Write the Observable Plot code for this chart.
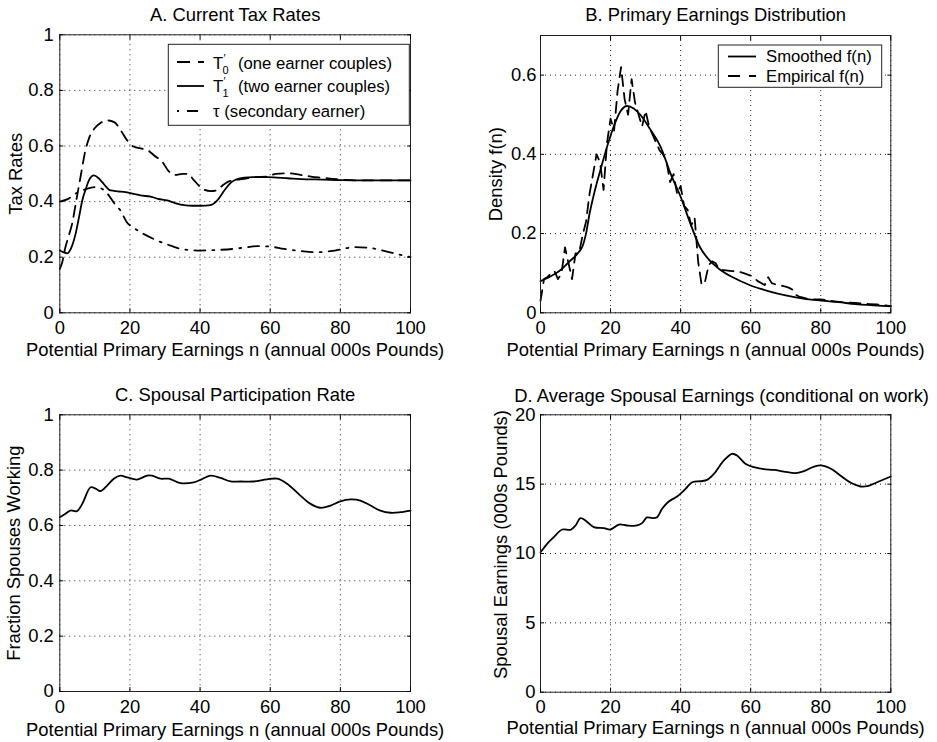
<!DOCTYPE html>
<html><head><meta charset="utf-8">
<script src="https://cdn.jsdelivr.net/npm/d3@7"></script>
<script src="https://cdn.jsdelivr.net/npm/@observablehq/plot@0.6"></script>
<style>
body{margin:0;background:#fff;}
#wrap{position:relative;width:937px;height:742px;background:#fff;}
#wrap svg{position:absolute;overflow:visible;}
</style></head><body><div id="wrap"></div>
<script>
// ---------- data ----------
const xTicks = [0, 20, 40, 60, 80, 100];
const xLabel = "Potential Primary Earnings n (annual 000s Pounds)";

// Panel A
const t0X = [0, 0.7, 1.6, 2.5, 3.5, 4.7, 5.9, 7.3, 8.4, 10, 11.5, 13.5, 15.5, 17.4, 19.1, 21, 23.5, 25, 26.9, 29.3, 31, 33, 35, 36.5, 38.3, 40.7, 43, 44.5, 46.4, 47.8, 49.3, 52.6, 55.4, 59.3, 61.6, 65.4, 68.3, 71.6, 74.5, 77.8, 81.1, 85, 90, 95, 100];
const t0Y = [0.158, 0.182, 0.236, 0.275, 0.32, 0.404, 0.488, 0.584, 0.63, 0.665, 0.682, 0.692, 0.686, 0.656, 0.622, 0.598, 0.59, 0.585, 0.566, 0.542, 0.51, 0.496, 0.5, 0.5, 0.476, 0.446, 0.438, 0.44, 0.458, 0.47, 0.476, 0.482, 0.488, 0.49, 0.5, 0.502, 0.497, 0.49, 0.486, 0.482, 0.478, 0.476, 0.476, 0.476, 0.476];
const t1X = [0, 1, 2.1, 3.2, 4.5, 5.5, 6.4, 7.4, 8.3, 9.7, 11, 12.1, 13.3, 14.5, 16.5, 18.8, 21, 23, 25.9, 28, 30.6, 33, 35.4, 38, 40.2, 43, 44.9, 46.9, 48.5, 49.7, 52.6, 55, 59.3, 65, 68.8, 75, 80.2, 87.9, 95, 100];
const t1Y = [0.224, 0.218, 0.214, 0.232, 0.284, 0.345, 0.404, 0.445, 0.476, 0.494, 0.485, 0.47, 0.452, 0.44, 0.437, 0.434, 0.428, 0.422, 0.418, 0.41, 0.404, 0.394, 0.387, 0.385, 0.385, 0.387, 0.404, 0.44, 0.465, 0.476, 0.486, 0.488, 0.488, 0.484, 0.481, 0.479, 0.477, 0.476, 0.476, 0.476];
const tauX = [0, 2.4, 5.2, 7.5, 10.2, 12, 13.6, 16, 17.3, 19.1, 21, 23, 26.7, 30.6, 34.4, 37, 40.2, 44.9, 49.6, 53, 56.3, 59.3, 64, 69, 73.5, 78.4, 84, 87.9, 92.7, 96, 100];
const tauY = [0.400, 0.410, 0.434, 0.445, 0.452, 0.446, 0.428, 0.386, 0.368, 0.326, 0.306, 0.29, 0.266, 0.246, 0.23, 0.226, 0.224, 0.226, 0.23, 0.235, 0.24, 0.239, 0.23, 0.222, 0.218, 0.224, 0.236, 0.234, 0.222, 0.212, 0.2];
const aTicks = [0, 0.2, 0.4, 0.6, 0.8, 1];

// Panel B
const smX = [0, 2, 4.3, 6, 8.1, 10.9, 12, 13, 14, 15, 16, 17.1, 19, 20.9, 22.8, 24.7, 26.6, 28.5, 31.4, 34.3, 37.1, 40, 42.8, 45.5, 48, 50, 52, 55, 60, 65, 70, 75, 80, 85, 90, 95, 100];
const smY = [0.08, 0.088, 0.099, 0.11, 0.128, 0.153, 0.168, 0.2, 0.25, 0.29, 0.325, 0.36, 0.419, 0.47, 0.508, 0.522, 0.516, 0.5, 0.462, 0.419, 0.352, 0.293, 0.225, 0.166, 0.135, 0.118, 0.104, 0.089, 0.069, 0.055, 0.044, 0.036, 0.031, 0.027, 0.022, 0.019, 0.016];
const empX = [0,1,2,3,4,5,6,7,8,9,10,11,12,13,14,15,16,17,18,19,20,21,22,23,24,25,26,27,28,29,30,31,32,33,34,35,36,37,38,39,40,41,42,43,44,45,46,47,48,49,50,51,52,53,54,55,56,57,58,59,60,61,62,63,64,65,66,67,68,69,70,71,72,73,74,75,76,77,78,79,80,82,84,86,88,90,92,94,96,98,100];
const empY = [0.03,0.085,0.09,0.10,0.105,0.085,0.10,0.165,0.125,0.085,0.15,0.15,0.195,0.23,0.30,0.35,0.40,0.38,0.31,0.43,0.49,0.46,0.56,0.62,0.54,0.50,0.59,0.53,0.50,0.47,0.51,0.47,0.45,0.43,0.41,0.40,0.38,0.33,0.35,0.30,0.32,0.27,0.26,0.22,0.24,0.13,0.07,0.08,0.12,0.13,0.125,0.11,0.108,0.107,0.106,0.105,0.104,0.103,0.10,0.097,0.094,0.088,0.08,0.075,0.07,0.09,0.075,0.072,0.07,0.068,0.066,0.063,0.058,0.045,0.04,0.038,0.036,0.035,0.034,0.034,0.034,0.031,0.029,0.027,0.026,0.025,0.023,0.022,0.021,0.019,0.017];
const bTicks = [0, 0.2, 0.4, 0.6];

// Panel C
const cX = [0, 1.6, 3, 4.9, 6.4, 8.8, 10.2, 11.6, 13.5, 15.4, 17.3, 19.2, 22, 24.9, 26.3, 28.7, 31.1, 34.4, 38.2, 40.1, 43, 45.8, 48.7, 51.5, 55.3, 59.1, 62, 64.8, 68.6, 71.5, 74.3, 77.2, 80, 82.9, 85.7, 88.6, 91.4, 94.3, 97.1, 100];
const cY = [0.63, 0.642, 0.654, 0.652, 0.678, 0.738, 0.733, 0.724, 0.744, 0.769, 0.78, 0.774, 0.766, 0.78, 0.78, 0.769, 0.769, 0.753, 0.756, 0.765, 0.78, 0.772, 0.759, 0.759, 0.759, 0.767, 0.769, 0.751, 0.708, 0.678, 0.664, 0.672, 0.687, 0.694, 0.69, 0.672, 0.654, 0.646, 0.648, 0.654];
const cTicks = [0, 0.2, 0.4, 0.6, 0.8, 1];

// Panel D
const dX = [0, 1.9, 3.8, 6.2, 8.6, 10, 11.4, 12.8, 15.2, 18.1, 20, 22.4, 24.7, 27.6, 29, 30.4, 31.9, 33.3, 34.7, 36.6, 39, 41.4, 43.3, 45.7, 47.6, 49.5, 52.3, 54.7, 56.1, 58.5, 60.9, 63.7, 66.6, 69.5, 72.8, 75.2, 78.1, 80.5, 83.3, 85.7, 88.6, 91.4, 93.3, 96.1, 100];
const dY = [10.09, 10.7, 11.18, 11.73, 11.71, 12.02, 12.55, 12.38, 11.9, 11.83, 11.73, 12.09, 12.02, 12.02, 12.19, 12.6, 12.55, 12.62, 13.22, 13.75, 14.11, 14.66, 15.14, 15.21, 15.31, 15.74, 16.7, 17.19, 17.07, 16.47, 16.22, 16.08, 16.03, 15.91, 15.79, 15.94, 16.27, 16.34, 16.06, 15.6, 15.1, 14.83, 14.85, 15.14, 15.55];
const dTicks = [0, 5, 10, 15, 20];

// ---------- drawing ----------
const FONT = '"Liberation Sans", Arial, Helvetica, sans-serif';
const FS = 18.4;      // axis / title text
const LFS = 16.7;     // legend text
const LW = 1.8;
const DASH = "11,7";
const DASHDOT = "11,7,2,7";
const wrap = document.getElementById("wrap");

function line(xs, ys, opts) {
  return Plot.line(ys, {x: xs, y: ys, stroke: "#000", strokeWidth: LW, ...opts});
}

function panel(o) {
  const svg = Plot.plot({
    width: o.w, height: o.h,
    marginLeft: o.ml, marginRight: o.mr, marginTop: o.mt, marginBottom: o.mb,
    style: {fontFamily: FONT, fontSize: FS + "px", background: "transparent", color: "#000"},
    x: {domain: [0, 100]},
    y: {domain: o.yDomain},
    marks: [
      Plot.gridX(xTicks, {stroke: "#000", strokeOpacity: 0.85, strokeDasharray: "1,4"}),
      Plot.gridY(o.yTicks, {stroke: "#000", strokeOpacity: 0.85, strokeDasharray: "1,4"}),
      ...o.marks,
      Plot.frame({stroke: "#222", strokeWidth: 1}),
      Plot.axisX(xTicks, {anchor: "bottom", tickSize: 0, tickPadding: 8, label: null, fontSize: FS}),
      Plot.axisX(xTicks, {anchor: "bottom", tickSize: -4, fill: "none", label: null}),
      Plot.axisX(xTicks, {anchor: "top", tickSize: -4, fill: "none", label: null}),
      Plot.axisY(o.yTicks, {anchor: "left", tickSize: 0, tickPadding: o.yPad, tickFormat: d3.format("~g"), label: null, fontSize: FS}),
      Plot.axisY(o.yTicks, {anchor: "left", tickSize: -4, fill: "none", label: null}),
      Plot.axisY(o.yTicks, {anchor: "right", tickSize: -4, fill: "none", label: null}),
      Plot.text([o.title], {text: d => d, frameAnchor: "top", dy: o.titleDy, dx: o.titleDx || 0, lineAnchor: "bottom", textAnchor: "middle", fontSize: FS}),
      Plot.text([xLabel], {text: d => d, frameAnchor: "bottom", dy: o.xlabelDy, lineAnchor: "bottom", textAnchor: "middle", fontSize: FS}),
      Plot.text([o.ylabel], {text: d => d, frameAnchor: "left", rotate: -90, dx: -o.ylabelOff, dy: o.ylabelDy || 0, lineAnchor: "top", textAnchor: "middle", fontSize: FS})
    ]
  });
  svg.style.left = o.left + "px";
  svg.style.top = o.top + "px";
  wrap.appendChild(svg);
  return d3.select(svg);
}

// Panel A
const sA = panel({
  left: 0, top: 0, w: 468, h: 371, ml: 59.3, mr: 58, mt: 34.3, mb: 58.7,
  yDomain: [0, 1], yTicks: aTicks, yPad: 6,
  title: "A. Current Tax Rates", titleDy: -13.6,
  xlabelDy: 43.5, ylabel: "Tax Rates", ylabelOff: 51,
  marks: [
    line(tauX, tauY, {strokeDasharray: DASHDOT, curve: "monotone-x"}),
    line(t0X, t0Y, {strokeDasharray: DASH, curve: "monotone-x"}),
    line(t1X, t1Y, {curve: "monotone-x"})
  ]
});
// Panel B
const sB = panel({
  left: 470, top: 0, w: 467, h: 371, ml: 70, mr: 46.7, mt: 35, mb: 58.7,
  yDomain: [0, 0.7], yTicks: bTicks, yPad: 4,
  title: "B. Primary Earnings Distribution", titleDy: -14.3,
  xlabelDy: 42.7, ylabel: "Density f(n)", ylabelOff: 52,
  marks: [
    line(empX, empY, {strokeDasharray: DASH}),
    line(smX, smY, {curve: "monotone-x"})
  ]
});
// Panel C
panel({
  left: 0, top: 370, w: 468, h: 372, ml: 59.3, mr: 58, mt: 44.3, mb: 51,
  yDomain: [0, 1], yTicks: cTicks, yPad: 6,
  title: "C. Spousal Participation Rate", titleDy: -14.3,
  xlabelDy: 44, ylabel: "Fraction Spouses Working", ylabelOff: 52.6,
  marks: [line(cX, cY, {curve: "catmull-rom"})]
});
// Panel D
panel({
  left: 470, top: 370, w: 467, h: 372, ml: 70, mr: 46.7, mt: 44.3, mb: 50.3,
  yDomain: [0, 20], yTicks: dTicks, yPad: 5,
  title: "D. Average Spousal Earnings (conditional on work)", titleDy: -13.3, titleDx: 6,
  xlabelDy: 41.6, ylabel: "Spousal Earnings (000s Pounds)", ylabelOff: 47, ylabelDy: -9,
  marks: [line(dX, dY, {curve: "catmull-rom"})]
});

// ---------- legends ----------
function legendBox(sel, x, y, w, h) {
  return sel.append("rect").attr("x", x).attr("y", y).attr("width", w).attr("height", h)
    .attr("fill", "#fff").attr("stroke", "#222").attr("stroke-width", 1);
}
function sample(sel, x1, x2, y, dash) {
  sel.append("line").attr("x1", x1).attr("x2", x2).attr("y1", y).attr("y2", y)
    .attr("stroke", "#000").attr("stroke-width", LW).attr("stroke-dasharray", dash || null);
}
// A legend
const gA = sA.append("g").attr("font-family", FONT).attr("font-size", LFS).attr("fill", "#000").attr("text-anchor", "start");
legendBox(gA, 168.3, 44.3, 241, 81);
sample(gA, 177, 204, 62, "13,8");
sample(gA, 177, 204, 86);
sample(gA, 177, 204, 111, "2,8,11,8");
const r1 = gA.append("text").attr("y", 68.5);
r1.append("tspan").attr("x", 213).text("T");
r1.append("tspan").attr("x", 223.5).attr("dy", -7).attr("font-size", 11).text("′");
r1.append("tspan").attr("x", 222.5).attr("dy", 12).attr("font-size", 11).text("0");
r1.append("tspan").attr("x", 238).attr("dy", -5).text("(one earner couples)");
const r2 = gA.append("text").attr("y", 92);
r2.append("tspan").attr("x", 213).text("T");
r2.append("tspan").attr("x", 223.5).attr("dy", -7).attr("font-size", 11).text("′");
r2.append("tspan").attr("x", 222.5).attr("dy", 12).attr("font-size", 11).text("1");
r2.append("tspan").attr("x", 238).attr("dy", -5).text("(two earner couples)");
gA.append("text").attr("x", 213).attr("y", 117).text("τ (secondary earner)");

// B legend (local coords: abs - 470)
const gB = sB.append("g").attr("font-family", FONT).attr("font-size", LFS).attr("fill", "#000").attr("text-anchor", "start");
legendBox(gB, 248.3, 45, 163.4, 42.3);
sample(gB, 258, 286, 56.5);
sample(gB, 258, 286, 76, "12,9");
gB.append("text").attr("x", 296).attr("y", 62).text("Smoothed f(n)");
gB.append("text").attr("x", 296).attr("y", 81.5).text("Empirical f(n)");
</script></body></html>
